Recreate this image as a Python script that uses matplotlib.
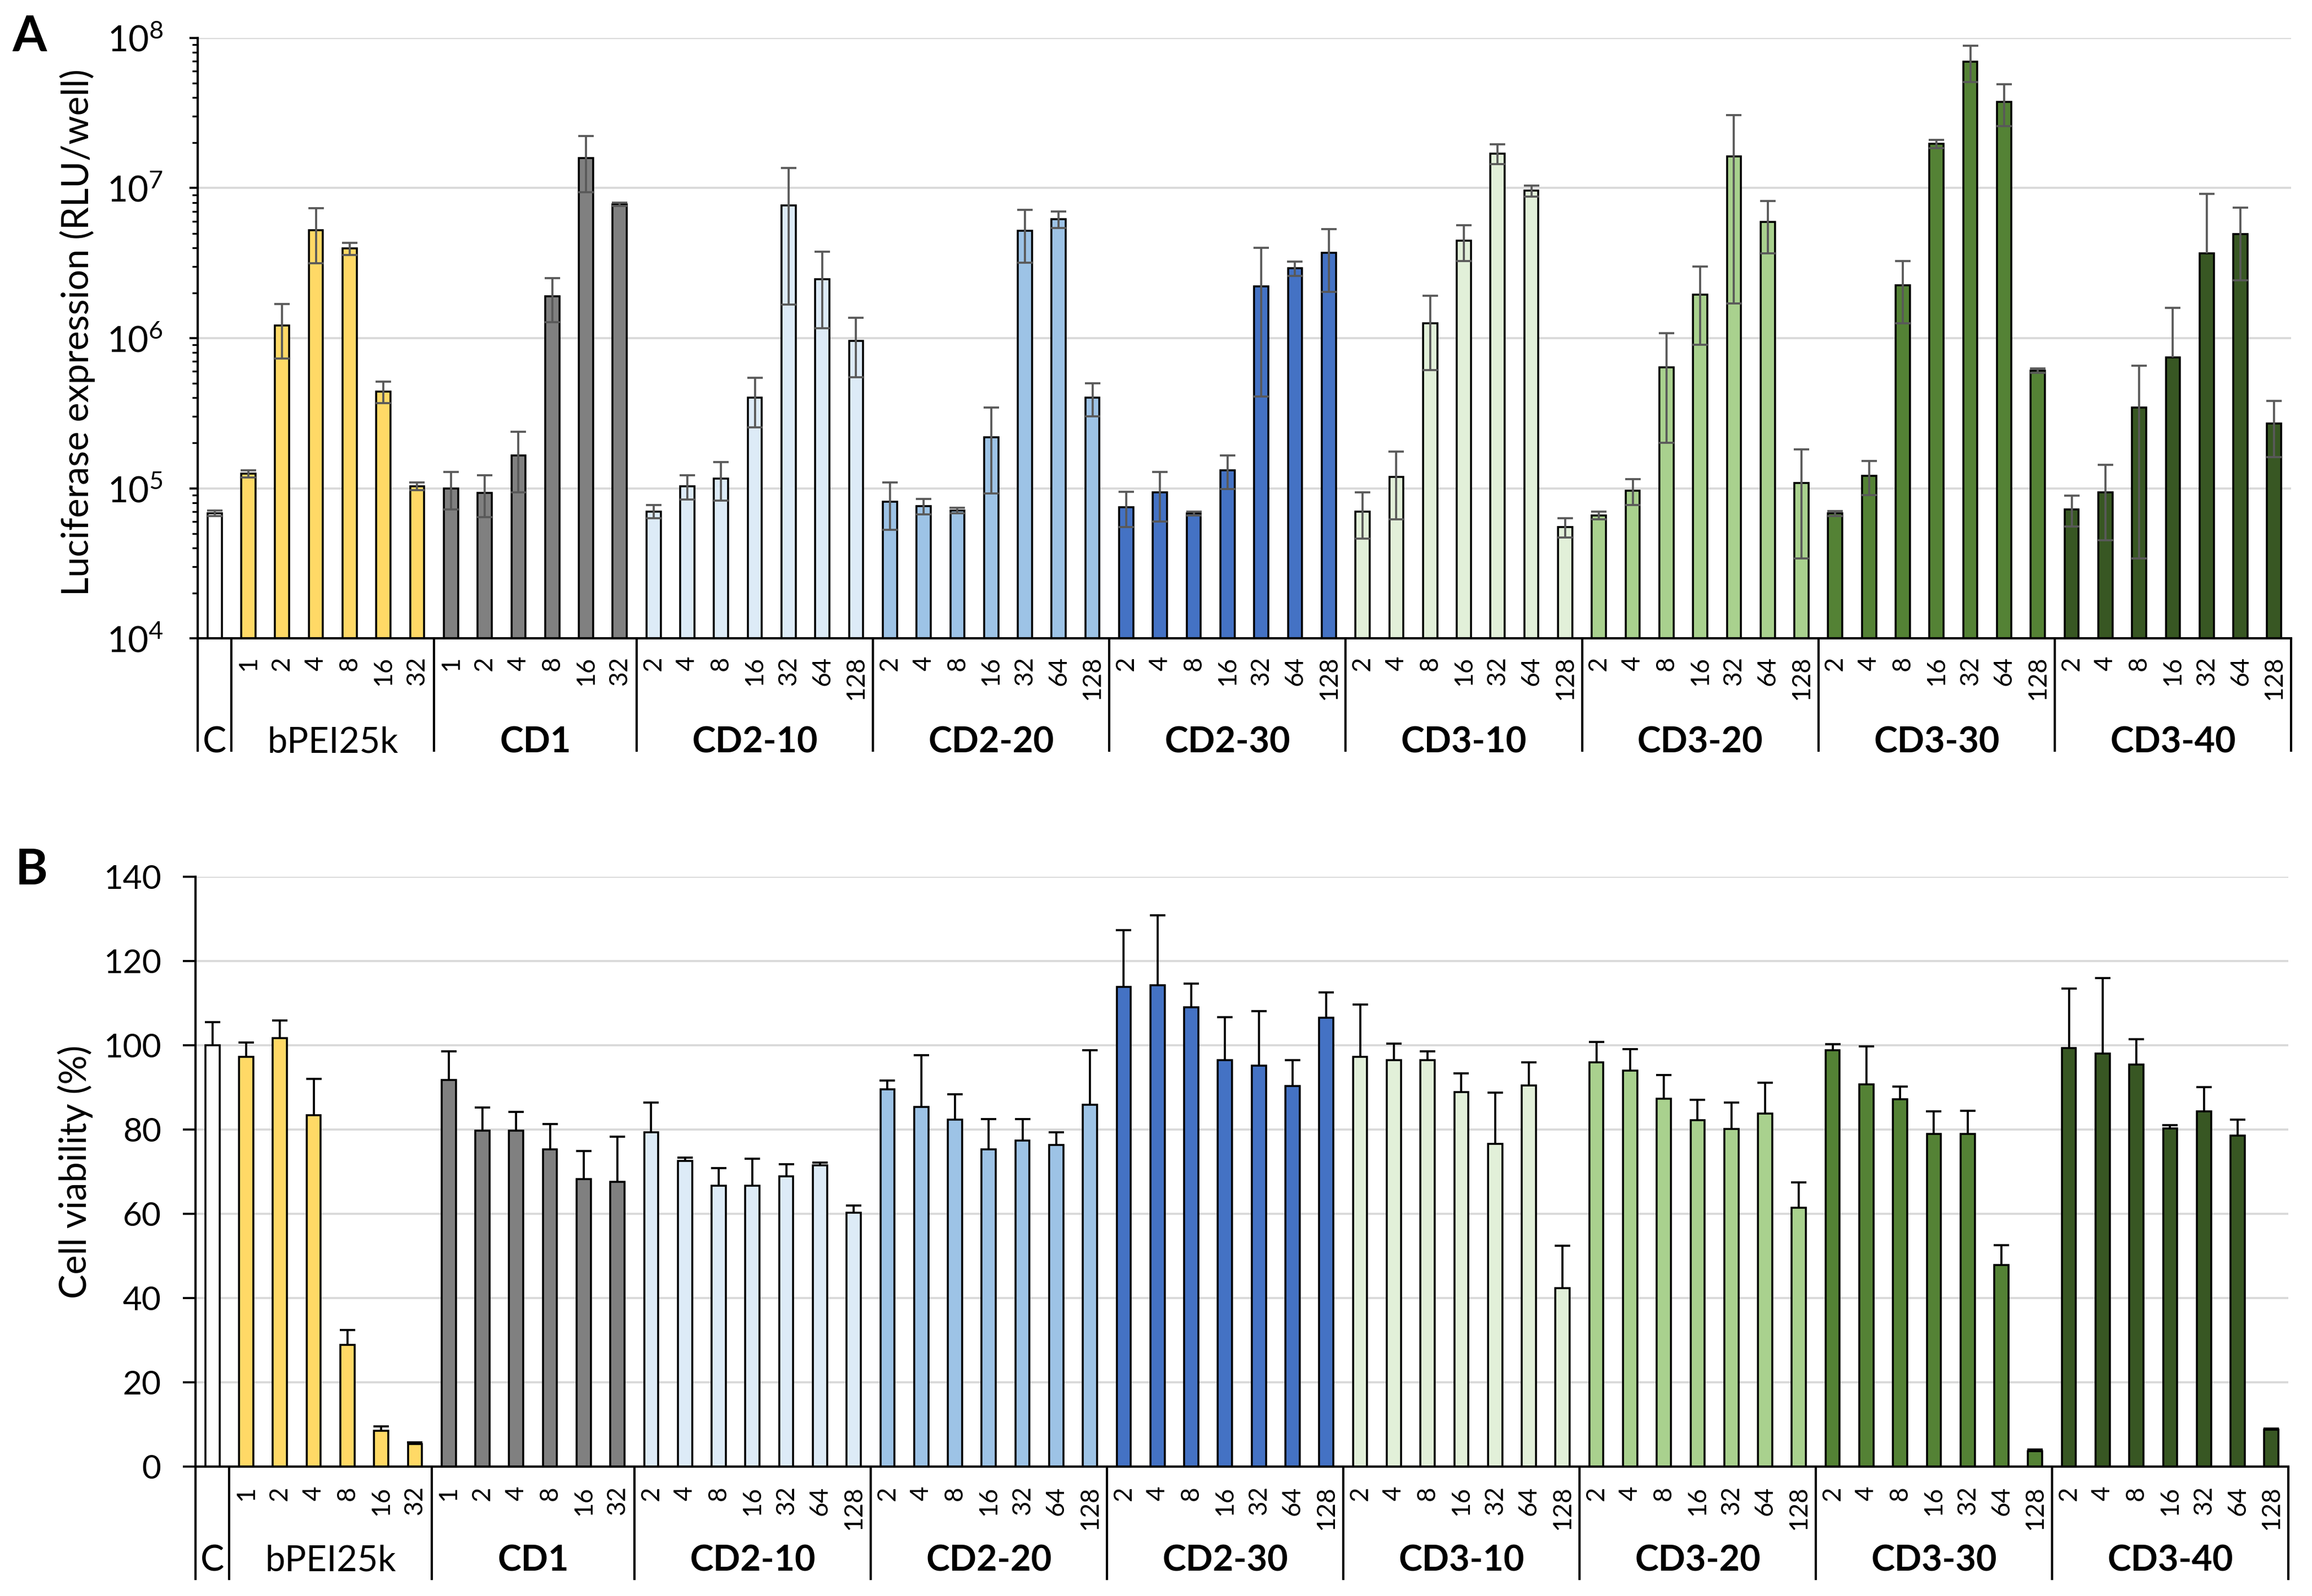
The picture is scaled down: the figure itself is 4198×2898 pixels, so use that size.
import numpy as np
import matplotlib
matplotlib.use('Agg')
import matplotlib.pyplot as plt
import matplotlib.transforms as mtransforms
from matplotlib.ticker import LogLocator, NullFormatter, FixedLocator

plt.rcParams['font.family'] = ['Lato', 'DejaVu Sans']
plt.rcParams['mathtext.fontset'] = 'custom'
plt.rcParams['mathtext.rm'] = 'Lato'
plt.rcParams['mathtext.it'] = 'Lato:italic'
plt.rcParams['mathtext.bf'] = 'Lato:bold'

# ---------------- data ----------------
groups = ['C', 'bPEI25k', 'CD1', 'CD2-10', 'CD2-20', 'CD2-30',
          'CD3-10', 'CD3-20', 'CD3-30', 'CD3-40']
doses_short = ['1', '2', '4', '8', '16', '32']
doses_long = ['2', '4', '8', '16', '32', '64', '128']
group_doses = [[''], doses_short, doses_short] + [doses_long] * 7
group_colors = ['#FFFFFF', '#FFD966', '#808080', '#DDEBF7', '#9DC3E6',
                '#4472C4', '#E2F0D9', '#A9D18E', '#548235', '#385723']
group_bold = [False, False, True, True, True, True, True, True, True, True]

# Panel A: luciferase expression (RLU/well)
luc_C = [6.8e4]
luc_bPEI = [1.25e5, 1.21e6, 5.26e6, 3.95e6, 4.42e5, 1.03e5]
luc_CD1 = [1.0e5, 9.3e4, 1.66e5, 1.90e6, 1.58e7, 7.8e6]
luc_CD2_10 = [7.0e4, 1.03e5, 1.16e5, 4.0e5, 7.67e6, 2.46e6, 9.6e5]
luc_CD2_20 = [8.1e4, 7.6e4, 7.1e4, 2.18e5, 5.19e6, 6.21e6, 4.0e5]
luc_CD2_30 = [7.5e4, 9.4e4, 6.8e4, 1.32e5, 2.21e6, 2.92e6, 3.69e6]
luc_CD3_10 = [7.0e4, 1.19e5, 1.26e6, 4.46e6, 1.70e7, 9.6e6, 5.5e4]
luc_CD3_20 = [6.6e4, 9.6e4, 6.4e5, 1.95e6, 1.62e7, 5.94e6, 1.08e5]
luc_CD3_30 = [6.8e4, 1.21e5, 2.26e6, 1.97e7, 6.97e7, 3.76e7, 6.06e5]
luc_CD3_40 = [7.25e4, 9.4e4, 3.44e5, 7.43e5, 3.66e6, 4.92e6, 2.71e5]

luc_err_C = [3e3]
luc_err_bPEI = [7e3, 4.8e5, 2.1e6, 3.8e5, 7.2e4, 6e3]
luc_err_CD1 = [2.8e4, 2.9e4, 7.2e4, 6.2e5, 6.4e6, 2e5]
luc_err_CD2_10 = [7e3, 1.9e4, 3.3e4, 1.45e5, 6.0e6, 1.3e6, 4.1e5]
luc_err_CD2_20 = [2.8e4, 9e3, 3e3, 1.26e5, 2.0e6, 8e5, 1.0e5]
luc_err_CD2_30 = [2e4, 3.4e4, 2e3, 3.3e4, 1.8e6, 3.3e5, 1.65e6]
luc_err_CD3_10 = [2.4e4, 5.7e4, 6.5e5, 1.2e6, 2.5e6, 8e5, 8e3]
luc_err_CD3_20 = [4e3, 1.9e4, 4.4e5, 1.05e6, 1.45e7, 2.26e6, 7.4e4]
luc_err_CD3_30 = [2.5e3, 3.1e4, 1.0e6, 1.2e6, 1.9e7, 1.17e7, 2e4]
luc_err_CD3_40 = [1.7e4, 4.9e4, 3.1e5, 8.5e5, 5.5e6, 2.5e6, 1.1e5]

# Panel B: cell viability (%)
via_C = [100.0]
via_bPEI = [97.3, 101.7, 83.4, 28.9, 8.5, 5.4]
via_CD1 = [91.7, 79.7, 79.7, 75.3, 68.3, 67.6]
via_CD2_10 = [79.4, 72.5, 66.7, 66.7, 68.9, 71.5, 60.3]
via_CD2_20 = [89.6, 85.4, 82.4, 75.3, 77.4, 76.3, 85.9]
via_CD2_30 = [113.9, 114.2, 109.0, 96.5, 95.1, 90.3, 106.6]
via_CD3_10 = [97.2, 96.5, 96.5, 88.9, 76.6, 90.5, 42.4]
via_CD3_20 = [96.0, 94.0, 87.3, 82.2, 80.1, 83.8, 61.4]
via_CD3_30 = [98.8, 90.7, 87.2, 78.9, 79.0, 47.9, 3.7]
via_CD3_40 = [99.4, 98.1, 95.4, 80.2, 84.3, 78.6, 8.7]

via_err_C = [5.5]
via_err_bPEI = [3.3, 4.2, 8.6, 3.5, 1.0, 0.3]
via_err_CD1 = [6.8, 5.5, 4.5, 6.0, 6.6, 10.7]
via_err_CD2_10 = [7.0, 0.8, 4.1, 6.4, 2.9, 0.7, 1.7]
via_err_CD2_20 = [2.0, 12.2, 6.0, 7.2, 5.1, 3.1, 12.9]
via_err_CD2_30 = [13.4, 16.6, 5.6, 10.2, 13.0, 6.2, 6.0]
via_err_CD3_10 = [12.5, 3.9, 2.1, 4.4, 12.2, 5.5, 10.0]
via_err_CD3_20 = [4.8, 5.1, 5.7, 4.8, 6.3, 7.3, 6.1]
via_err_CD3_30 = [1.5, 9.1, 3.0, 5.4, 5.5, 4.7, 0.3]
via_err_CD3_40 = [14.0, 17.8, 6.0, 0.8, 5.8, 3.8, 0.3]

luc_vals = [luc_C, luc_bPEI, luc_CD1, luc_CD2_10, luc_CD2_20, luc_CD2_30,
            luc_CD3_10, luc_CD3_20, luc_CD3_30, luc_CD3_40]
luc_errs = [luc_err_C, luc_err_bPEI, luc_err_CD1, luc_err_CD2_10, luc_err_CD2_20,
            luc_err_CD2_30, luc_err_CD3_10, luc_err_CD3_20, luc_err_CD3_30, luc_err_CD3_40]
via_vals = [via_C, via_bPEI, via_CD1, via_CD2_10, via_CD2_20, via_CD2_30,
            via_CD3_10, via_CD3_20, via_CD3_30, via_CD3_40]
via_errs = [via_err_C, via_err_bPEI, via_err_CD1, via_err_CD2_10, via_err_CD2_20,
            via_err_CD2_30, via_err_CD3_10, via_err_CD3_20, via_err_CD3_30, via_err_CD3_40]

# ---------------- figure ----------------
W, H = 4198, 2898
fig = plt.figure(figsize=(W / 300, H / 300), dpi=300)

def frac_axes(left, right, top, bottom):
    return fig.add_axes([left / W, 1 - bottom / H, (right - left) / W, (bottom - top) / H])

axA = frac_axes(359, 4160, 69, 1159)
axB = frac_axes(355, 4155, 1592, 2663)

BAR_W = 0.42
EDGE_LW = 0.85


def draw_panel(ax, vals, errs, num_y, grp_y, sep_y, err_color, both_sides):
    x0 = 0
    bounds = [-0.5]
    trans = mtransforms.blended_transform_factory(ax.transData, ax.transAxes)
    for g in range(len(groups)):
        v = np.asarray(vals[g], dtype=float)
        e = np.asarray(errs[g], dtype=float)
        n = len(v)
        xs = np.arange(x0, x0 + n)
        ax.bar(xs, v, width=BAR_W, color=group_colors[g], edgecolor='black',
               linewidth=EDGE_LW, zorder=2)
        if both_sides:
            lower = np.where(v - e > 0, e, 0.0)
        else:
            lower = np.zeros_like(e)
        eb = ax.errorbar(xs, v, yerr=[lower, e], fmt='none', ecolor=err_color,
                         elinewidth=0.9, capsize=3.3, capthick=0.9, zorder=3)
        lo_cap = eb[1][0]
        yd = np.asarray(lo_cap.get_ydata(), dtype=float)
        lo_cap.set_ydata(np.where(lower > 0, yd, np.nan))
        for xi, d in zip(xs, group_doses[g]):
            if d:
                ax.text(xi, num_y, d, transform=trans, rotation=90, ha='center',
                        va='top', fontsize=11, color='black')
        ax.text(x0 + (n - 1) / 2, grp_y, groups[g], transform=trans, ha='center',
                va='center', fontsize=15.5,
                fontweight='bold' if group_bold[g] else 'normal')
        x0 += n
        bounds.append(x0 - 0.5)
    for b in bounds:
        ax.plot([b, b], [0, sep_y], transform=trans, color='black', lw=1.0,
                clip_on=False, solid_capstyle='butt', zorder=4)
    ax.set_xlim(-0.5, x0 - 0.5)
    ax.set_xticks([])
    for s in ['top', 'right']:
        ax.spines[s].set_visible(False)
    for s in ['left', 'bottom']:
        ax.spines[s].set_linewidth(1.0)
        ax.spines[s].set_color('black')
    ax.set_axisbelow(True)
    ax.yaxis.grid(True, which='major', color='#D9D9D9', linewidth=0.9, zorder=0)


draw_panel(axA, luc_vals, luc_errs, -0.030, -0.173, -0.189, '#595959', True)
axA.set_yscale('log')
axA.set_ylim(1e4, 1e8)
axA.yaxis.set_major_locator(LogLocator(base=10, numticks=10))
axA.yaxis.set_minor_locator(LogLocator(base=10, subs=np.arange(2, 10), numticks=20))
axA.yaxis.set_minor_formatter(NullFormatter())
axA.tick_params(axis='y', which='major', length=3.6, width=0.9, pad=11.5, labelsize=15.5)
axA.tick_params(axis='y', which='minor', length=2.4, width=0.8)
axA.set_ylabel('Luciferase expression (RLU/well)', fontsize=16)
axA.yaxis.set_label_coords(-0.049, 0.51)

draw_panel(axB, via_vals, via_errs, -0.033, -0.160, -0.192, 'black', False)
axB.set_ylim(0, 140)
axB.yaxis.set_major_locator(FixedLocator(np.arange(0, 141, 20)))
axB.tick_params(axis='y', which='major', length=5.5, width=0.9, pad=9.5, labelsize=14.5)
axB.set_ylabel('Cell viability (%)', fontsize=16)
axB.yaxis.set_label_coords(-0.049, 0.5)

fig.text(54 / W, 1 - 67 / H, 'A', fontsize=21.5, fontweight='bold', ha='center', va='center')
fig.text(57 / W, 1 - 1580 / H, 'B', fontsize=21.5, fontweight='bold', ha='center', va='center')

fig.savefig('out.png', dpi=300, facecolor='white')
